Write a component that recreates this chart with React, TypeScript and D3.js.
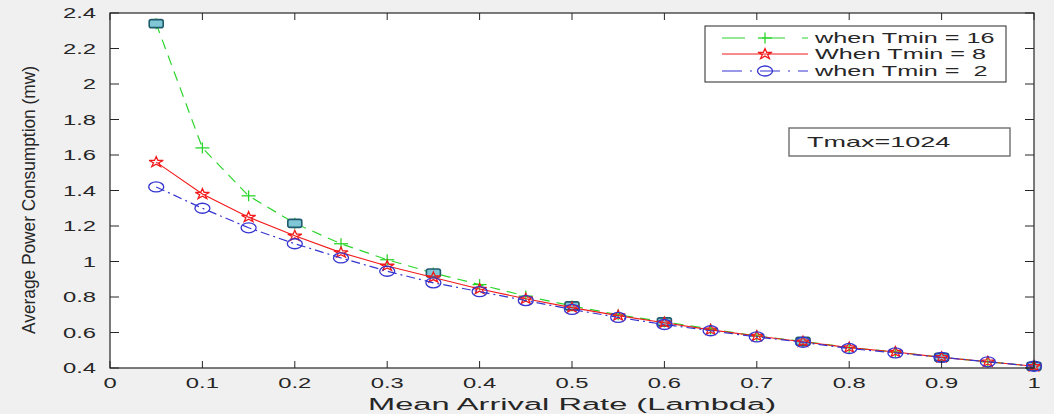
import React from "react";
import * as d3 from "d3";

const lambdas = [0.05, 0.1, 0.15, 0.2, 0.25, 0.3, 0.35, 0.4, 0.45, 0.5, 0.55, 0.6, 0.65, 0.7, 0.75, 0.8, 0.85, 0.9, 0.95, 1.0];
const tmin16 = [2.34, 1.64, 1.37, 1.215, 1.10, 1.01, 0.935, 0.87, 0.805, 0.75, 0.70, 0.66, 0.62, 0.58, 0.55, 0.515, 0.49, 0.46, 0.435, 0.41];
const tmin8 = [1.56, 1.38, 1.25, 1.145, 1.05, 0.975, 0.91, 0.845, 0.79, 0.74, 0.695, 0.655, 0.615, 0.58, 0.548, 0.515, 0.49, 0.46, 0.435, 0.41];
const tmin2 = [1.42, 1.30, 1.19, 1.10, 1.02, 0.945, 0.88, 0.83, 0.78, 0.73, 0.685, 0.645, 0.61, 0.575, 0.545, 0.51, 0.485, 0.46, 0.435, 0.41];
const squareLambdas = [0.05, 0.2, 0.35, 0.5, 0.6, 0.75, 0.9, 1.0];
const xTicks = [0, 0.1, 0.2, 0.3, 0.4, 0.5, 0.6, 0.7, 0.8, 0.9, 1];
const yTicks = [0.4, 0.6, 0.8, 1, 1.2, 1.4, 1.6, 1.8, 2, 2.2, 2.4];
const legendLabels = ["when Tmin = 16", "When Tmin = 8", "when Tmin =  2"];
const annotation = "Tmax=1024";
const xTitle = "Mean Arrival Rate (Lambda)";
const yTitle = "Average Power Consumption (mw)";

const W = 1054, H = 414;
const L = 110, R = 1034, T = 13, B = 368;
const FONT = "'Liberation Sans', Arial, Helvetica, sans-serif";
const GREEN = "#2bd62b";
const RED = "#f21a1a";
const BLUE = "#3535d0";

const x = d3.scaleLinear().domain([0, 1]).range([L, R]);
const y = d3.scaleLinear().domain([0.4, 2.4]).range([B, T]);

function starPath(cx: number, cy: number, rad: number, sx: number) {
  const pts: [number, number][] = [];
  for (let i = 0; i < 10; i++) {
    const r = i % 2 === 0 ? rad : rad * 0.382;
    const a = -Math.PI / 2 + (i * Math.PI) / 5;
    pts.push([cx + r * Math.cos(a) * sx, cy + r * Math.sin(a)]);
  }
  return "M" + pts.map((p) => p[0].toFixed(2) + "," + p[1].toFixed(2)).join("L") + "Z";
}

function Plus({ cx, cy }: { cx: number; cy: number }) {
  return (
    <g stroke={GREEN} strokeWidth={1.3}>
      <line x1={cx - 7} x2={cx + 7} y1={cy} y2={cy} />
      <line x1={cx} x2={cx} y1={cy - 5.5} y2={cy + 5.5} />
    </g>
  );
}
function Star({ cx, cy }: { cx: number; cy: number }) {
  return <path d={starPath(cx, cy, 5.5, 1.35)} fill="none" stroke={RED} strokeWidth={1.3} />;
}
function Circ({ cx, cy }: { cx: number; cy: number }) {
  return <ellipse cx={cx} cy={cy} rx={7.5} ry={5} fill="none" stroke={BLUE} strokeWidth={1.3} />;
}

function HText({ x: tx, y: ty, sx, size, anchor, children }: any) {
  return (
    <text
      transform={`translate(${tx},${ty}) scale(${sx},1)`}
      fontSize={size}
      fontFamily={FONT}
      textAnchor={anchor}
      fill="#262626"
      style={{ whiteSpace: "pre" }}
    >
      {children}
    </text>
  );
}

export default function App() {
  const line = d3
    .line<number>()
    .x((_, i) => x(lambdas[i]))
    .y((d) => y(d));

  const sqIdx = squareLambdas.map((l) => lambdas.findIndex((v) => Math.abs(v - l) < 1e-9));

  return (
    <svg width={W} height={H} style={{ position: "absolute", left: 0, top: 0 }}>
      <rect x={0} y={0} width={W} height={H} fill="#f0f0f0" />
      <rect x={L} y={T} width={R - L} height={B - T} fill="#ffffff" />

      {/* series */}
      <path d={line(tmin16) || ""} fill="none" stroke={GREEN} strokeWidth={1.2} strokeDasharray="10,7" />
      {tmin16.map((v, i) => (
        <Plus key={"p" + i} cx={x(lambdas[i])} cy={y(v)} />
      ))}
      {sqIdx.map((i) => (
        <rect
          key={"s" + i}
          x={x(lambdas[i]) - 7}
          y={y(tmin16[i]) - 4}
          width={14}
          height={8}
          rx={2}
          fill="#7fc6d6"
          stroke="#1f5b6c"
          strokeWidth={1.6}
        />
      ))}
      <path d={line(tmin8) || ""} fill="none" stroke={RED} strokeWidth={1.1} />
      {tmin8.map((v, i) => (
        <Star key={"r" + i} cx={x(lambdas[i])} cy={y(v)} />
      ))}
      <path d={line(tmin2) || ""} fill="none" stroke={BLUE} strokeWidth={1.2} strokeDasharray="9,4,2,4" />
      {tmin2.map((v, i) => (
        <Circ key={"c" + i} cx={x(lambdas[i])} cy={y(v)} />
      ))}

      {/* axes frame and ticks */}
      <rect x={L} y={T} width={R - L} height={B - T} fill="none" stroke="#262626" strokeWidth={1.2} />
      {xTicks.map((t) => (
        <g key={"xt" + t} stroke="#262626" strokeWidth={1}>
          <line x1={x(t)} x2={x(t)} y1={B} y2={B - 7} />
          <line x1={x(t)} x2={x(t)} y1={T} y2={T + 7} />
        </g>
      ))}
      {yTicks.map((t) => (
        <g key={"yt" + t} stroke="#262626" strokeWidth={1}>
          <line x1={L} x2={L + 9} y1={y(t)} y2={y(t)} />
          <line x1={R} x2={R - 9} y1={y(t)} y2={y(t)} />
        </g>
      ))}
      {xTicks.map((t) => (
        <HText key={"xl" + t} x={x(t)} y={388} sx={1.7} size={14} anchor="middle">
          {String(t)}
        </HText>
      ))}
      {yTicks.map((t) => (
        <HText key={"yl" + t} x={96} y={y(t) + 5} sx={1.7} size={14} anchor="end">
          {String(t)}
        </HText>
      ))}
      <HText x={(L + R) / 2} y={410} sx={1.92} size={17} anchor="middle">
        {xTitle}
      </HText>
      <text
        transform={`translate(35,200) rotate(-90)`}
        fontSize={19}
        fontFamily={FONT}
        textAnchor="middle"
        fill="#262626"
        textLength={268}
        lengthAdjust="spacingAndGlyphs"
      >
        {yTitle}
      </text>

      {/* legend */}
      <rect x={705} y={26} width={301} height={56} fill="#ffffff" stroke="#262626" strokeWidth={1} />
      <line x1={722} x2={808} y1={38} y2={38} stroke={GREEN} strokeWidth={1.2} strokeDasharray="23,17" />
      <Plus cx={765} cy={38} />
      <line x1={722} x2={808} y1={54} y2={54} stroke={RED} strokeWidth={1.1} />
      <Star cx={765} cy={54} />
      <line x1={722} x2={808} y1={71} y2={71} stroke={BLUE} strokeWidth={1.2} strokeDasharray="20,8,2,8" />
      <Circ cx={765} cy={71} />
      {legendLabels.map((lab, i) => (
        <HText key={"lg" + i} x={815} y={[43, 59, 76][i]} sx={1.8} size={14} anchor="start">
          {lab}
        </HText>
      ))}

      {/* annotation */}
      <rect x={789} y={128} width={221} height={28} fill="#ffffff" stroke="#6e6e6e" strokeWidth={1.4} />
      <HText x={807} y={147} sx={1.93} size={14} anchor="start">
        {annotation}
      </HText>
    </svg>
  );
}
